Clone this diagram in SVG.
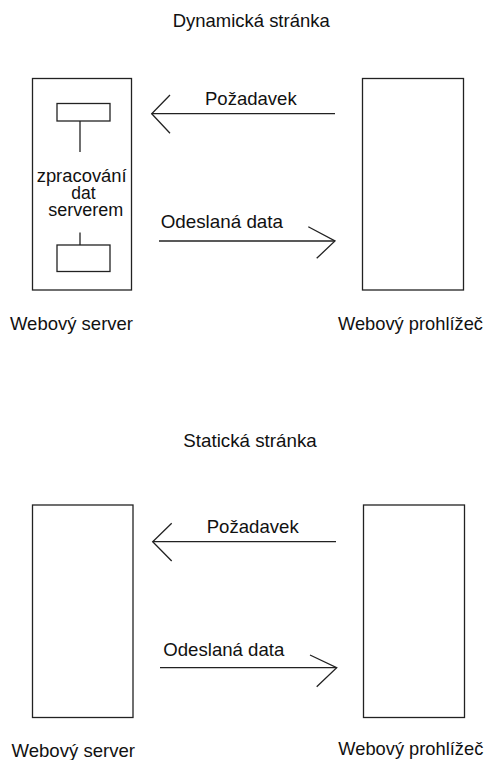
<svg xmlns="http://www.w3.org/2000/svg" width="486" height="760" viewBox="0 0 486 760">
<style>
text{font-family:"Liberation Sans",Arial,sans-serif;font-size:18.5px;fill:#111}
.in{font-size:17.5px}
.box{fill:#fff;stroke:#222;stroke-width:1.3}
.ln{fill:none;stroke:#222;stroke-width:1.3}
</style>
<rect width="486" height="760" fill="#fff"/>
<text x="172.7" y="26.5" textLength="157" lengthAdjust="spacingAndGlyphs">Dynamická stránka</text>
<g id="server1">
<rect class="box" x="32.5" y="78.5" width="99" height="211.5"/>
<rect class="box" x="57" y="103.5" width="53" height="17.5"/>
<line class="ln" x1="80" y1="121" x2="80" y2="152"/>
<text class="in" x="36.7" y="181.7" textLength="90" lengthAdjust="spacingAndGlyphs">zpracování</text>
<text class="in" x="83.5" y="198.5" text-anchor="middle">dat</text>
<text class="in" x="48.3" y="215.5" textLength="75" lengthAdjust="spacingAndGlyphs">serverem</text>
<line class="ln" x1="80" y1="232.5" x2="80" y2="245"/>
<rect class="box" x="57" y="245" width="53" height="26.5"/>
<text x="10" y="330" textLength="123" lengthAdjust="spacingAndGlyphs">Webový server</text>
</g>
<g id="browser1">
<rect class="box" x="362.5" y="78.5" width="101" height="211.5"/>
<text x="338" y="330" textLength="145" lengthAdjust="spacingAndGlyphs">Webový prohlížeč</text>
</g>
<text x="183.3" y="446.5" textLength="133.4" lengthAdjust="spacingAndGlyphs">Statická stránka</text>
<g id="server2">
<rect class="box" x="32.5" y="505" width="100.5" height="212.5"/>
<text x="11.5" y="756.5" textLength="123.5" lengthAdjust="spacingAndGlyphs">Webový server</text>
</g>
<g id="browser2">
<rect class="box" x="363.5" y="505" width="101" height="212.5"/>
<text x="338.3" y="755" textLength="145" lengthAdjust="spacingAndGlyphs">Webový prohlížeč</text>
</g>
<g id="connectors">
<line class="ln" x1="335" y1="113.7" x2="151.7" y2="113.7"/>
<polyline class="ln" points="170,95 151.7,113.7 170,133.3"/>
<text x="205" y="105" textLength="91.7" lengthAdjust="spacingAndGlyphs">Požadavek</text>
<line class="ln" x1="159" y1="241" x2="335" y2="241"/>
<polyline class="ln" points="308.3,226.7 335,241 316.7,258.3"/>
<text x="160.7" y="228" textLength="122.3" lengthAdjust="spacingAndGlyphs">Odeslaná data</text>
<line class="ln" x1="336" y1="541.7" x2="152.7" y2="541.7"/>
<polyline class="ln" points="171.7,523.3 152.7,541.7 171.7,561"/>
<text x="206.7" y="533.3" textLength="92" lengthAdjust="spacingAndGlyphs">Požadavek</text>
<line class="ln" x1="160" y1="667.7" x2="336.7" y2="667.7"/>
<polyline class="ln" points="310,655 336.7,667.7 316.7,686.7"/>
<text x="163.3" y="655.7" textLength="121" lengthAdjust="spacingAndGlyphs">Odeslaná data</text>
</g>
</svg>
